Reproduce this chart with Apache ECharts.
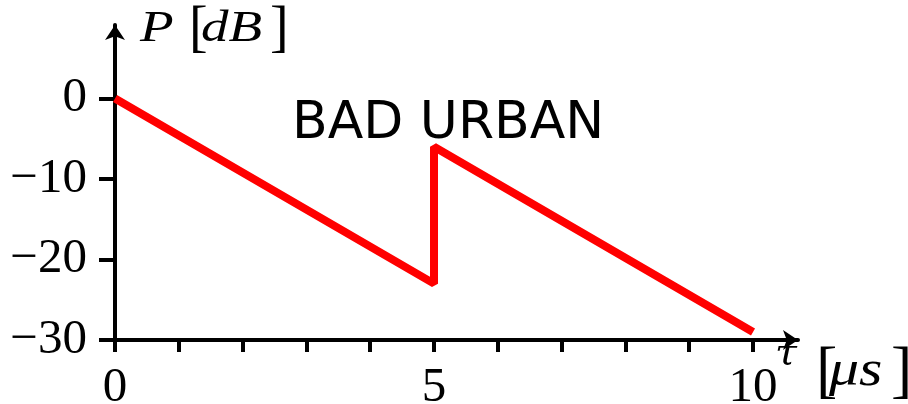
<!DOCTYPE html>
<html>
<head>
<meta charset="utf-8">
<script src="https://cdn.jsdelivr.net/npm/echarts@6/dist/echarts.min.js"></script>
<style>
  html, body { margin: 0; padding: 0; background: #fff; }
  #chart { width: 908px; height: 404px; }
</style>
</head>
<body>
<div id="chart"></div>
<script>
// delay profile, bad urban
var tau = [0, 5, 5, 10];
var power = [0, -23, -6, -29];
var xTicks = [0, 1, 2, 3, 4, 5, 6, 7, 8, 9, 10];
var xLabels = [0, 5, 10];
var yTicks = [-30, -20, -10, 0];

var chart = echarts.init(document.getElementById('chart'));
var serif = 'Liberation Serif';

// one piece of an axis name, placed by its baseline
function piece(txt, left, baseline, size, italic, sx, family) {
  return {
    type: 'text',
    x: left,
    y: baseline - 0.3 * size,
    scaleX: sx || 1,
    style: {
      text: txt,
      fill: '#000',
      font: (italic ? 'italic ' : '') + size + 'px "' + (family || serif) + '"',
      align: 'left',
      verticalAlign: 'middle'
    }
  };
}

var option = {
  animation: false,
  grid: { left: 115, right: 110, top: 25, bottom: 64, outerBoundsMode: 'none', containLabel: false },
  xAxis: {
    type: 'value',
    min: 0,
    max: 10.705,
    interval: 1,
    splitLine: { show: false },
    axisLine: {
      onZero: false,
      symbol: ['none', 'arrow'],
      symbolSize: [15, 15],
      lineStyle: { color: '#000', width: 4 }
    },
    axisTick: {
      customValues: xTicks,
      length: 12,
      lineStyle: { color: '#000', width: 4 }
    },
    axisLabel: {
      customValues: xLabels,
      margin: 24,
      color: '#000',
      fontFamily: serif,
      fontSize: 49
    }
  },
  yAxis: {
    type: 'value',
    min: -30,
    max: 9.13,
    interval: 10,
    splitLine: { show: false },
    axisLine: {
      onZero: false,
      symbol: ['none', 'arrow'],
      symbolSize: [15, 15],
      lineStyle: { color: '#000', width: 4 }
    },
    axisTick: {
      customValues: yTicks,
      length: 16,
      lineStyle: { color: '#000', width: 4 }
    },
    axisLabel: {
      customValues: yTicks,
      margin: 28,
      color: '#000',
      fontFamily: serif,
      fontSize: 49,
      formatter: function (v) { return String(v).replace('-', '\u2212'); }
    }
  },
  series: [{
    type: 'line',
    data: tau.map(function (t, i) { return [t, power[i]]; }),
    showSymbol: false,
    lineStyle: { color: '#ff0000', width: 8 }
  }],
  graphic: [
    piece('P', 140, 43, 44, true, 1.25),
    piece('[', 189, 47, 56, false),
    piece('dB', 201, 43, 44, true, 1.25),
    piece(']', 270, 47, 56, false),
    piece('\u03c4', 775, 365, 36, true, 1.1, 'DejaVu Serif'),
    piece('[', 816, 392, 64, false),
    piece('\u03bcs', 829, 387, 50, true, 1.2),
    piece(']', 891, 392, 64, false),
    {
      type: 'text', left: 292, top: 98,
      style: {
        text: 'BAD URBAN',
        fill: '#000',
        fontFamily: 'DejaVu Sans',
        fontSize: 52
      }
    }
  ]
};

chart.setOption(option);
</script>
</body>
</html>
